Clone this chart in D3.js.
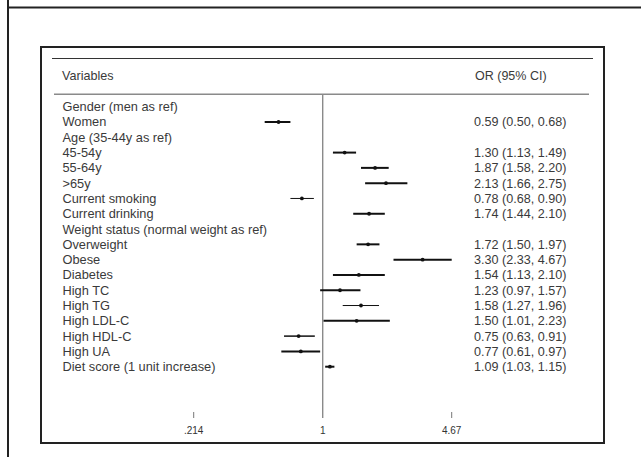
<!DOCTYPE html>
<html>
<head>
<meta charset="utf-8">
<script src="https://cdn.jsdelivr.net/npm/d3@7"></script>
<style>
  body { margin: 0; background: #fff; }
  svg { display: block; font-family: "Liberation Sans", Arial, sans-serif; }
</style>
</head>
<body>
<div id="chart"></div>
<script>
// row labels of the forest plot, headers have no estimate
const variables = [
  'Gender (men as ref)', 'Women', 'Age (35-44y as ref)', '45-54y', '55-64y', '>65y',
  'Current smoking', 'Current drinking', 'Weight status (normal weight as ref)',
  'Overweight', 'Obese', 'Diabetes', 'High TC', 'High TG', 'High LDL-C',
  'High HDL-C', 'High UA', 'Diet score (1 unit increase)'
];
const orValues = [null, 0.59, null, 1.30, 1.87, 2.13, 0.78, 1.74, null, 1.72, 3.30, 1.54, 1.23, 1.58, 1.50, 0.75, 0.77, 1.09];
const ciLow    = [null, 0.50, null, 1.13, 1.58, 1.66, 0.68, 1.44, null, 1.50, 2.33, 1.13, 0.97, 1.27, 1.01, 0.63, 0.61, 1.03];
const ciHigh   = [null, 0.68, null, 1.49, 2.20, 2.75, 0.90, 2.10, null, 1.97, 4.67, 2.10, 1.57, 1.96, 2.23, 0.91, 0.97, 1.15];
const tickValues = [1 / 4.67, 1, 4.67];
const tickLabels = ['.214', '1', '4.67'];

const createGraph = () => {
  const width = 641;
  const height = 457;
  const f2 = d3.format('.2f');
  const thin = new Set(['Current smoking', 'High TG']);

  const svg = d3.select('#chart').append('svg')
    .attr('width', width)
    .attr('height', height);

  // outer frame (only top and left edges visible)
  svg.append('line').attr('x1', 7).attr('x2', width).attr('y1', 7.5).attr('y2', 7.5)
    .attr('stroke', '#222').attr('stroke-width', 2);
  svg.append('line').attr('x1', 8).attr('x2', 8).attr('y1', 0).attr('y2', height)
    .attr('stroke', '#222').attr('stroke-width', 2);

  // inner box
  svg.append('rect')
    .attr('x', 41).attr('y', 47).attr('width', 563).attr('height', 396)
    .attr('fill', 'none').attr('stroke', '#222').attr('stroke-width', 2);

  const x = d3.scaleLog().domain([1 / 4.67, 4.67]).range([193.7, 451.7]);
  const y = d3.scalePoint().domain(d3.range(variables.length)).range([106.7, 366.7]);

  // header
  svg.append('line').attr('x1', 52).attr('x2', 593).attr('y1', 58.5).attr('y2', 58.5)
    .attr('stroke', '#333').attr('stroke-width', 1);
  svg.append('text').attr('x', 62).attr('y', 79.5)
    .style('font-size', '12.6px').style('fill', '#3a3a3a').text('Variables');
  svg.append('text').attr('x', 475).attr('y', 79.5)
    .style('font-size', '12.5px').style('fill', '#3a3a3a').text('OR (95% CI)');
  svg.append('line').attr('x1', 54).attr('x2', 589).attr('y1', 94.3).attr('y2', 94.3)
    .attr('stroke', '#8a8a8a').attr('stroke-width', 1.4);

  // null line at OR = 1
  svg.append('line')
    .attr('x1', x(1)).attr('x2', x(1)).attr('y1', 94.3).attr('y2', 418)
    .attr('stroke', '#8a8a8a').attr('stroke-width', 1.4);

  // axis ticks
  const ticks = svg.append('g');
  ticks.selectAll('line')
    .data(tickValues.filter(v => v !== 1))
    .enter().append('line')
    .attr('x1', d => x(d)).attr('x2', d => x(d))
    .attr('y1', 412).attr('y2', 418)
    .attr('stroke', '#777').attr('stroke-width', 1);
  ticks.selectAll('text')
    .data(tickValues)
    .enter().append('text')
    .attr('x', d => x(d)).attr('y', 433.5)
    .style('text-anchor', 'middle')
    .style('font-size', '10px').style('fill', '#333')
    .text((d, i) => tickLabels[i]);

  const rows = svg.selectAll('.row')
    .data(variables.map((v, i) => ({ name: v, i, or: orValues[i], lo: ciLow[i], hi: ciHigh[i] })))
    .enter().append('g')
    .attr('class', 'row');

  rows.append('text')
    .attr('x', 62.5).attr('y', d => y(d.i) + 4.5)
    .style('font-size', '12.8px').style('fill', '#3a3a3a')
    .text(d => d.name);

  const est = rows.filter(d => d.or !== null);

  est.append('line')
    .attr('x1', d => x(d.lo)).attr('x2', d => x(d.hi))
    .attr('y1', d => y(d.i)).attr('y2', d => y(d.i))
    .attr('stroke', '#111')
    .attr('stroke-width', d => thin.has(d.name) ? 1 : (d.name === 'High HDL-C' ? 1.5 : 2));

  est.append('circle')
    .attr('cx', d => x(d.or)).attr('cy', d => y(d.i))
    .attr('r', 1.9).attr('fill', '#111');

  est.append('text')
    .attr('x', 474).attr('y', d => y(d.i) + 4.4)
    .style('font-size', '12.6px').style('fill', '#3a3a3a')
    .text(d => `${f2(d.or)} (${f2(d.lo)}, ${f2(d.hi)})`);
};

createGraph();
</script>
</body>
</html>
